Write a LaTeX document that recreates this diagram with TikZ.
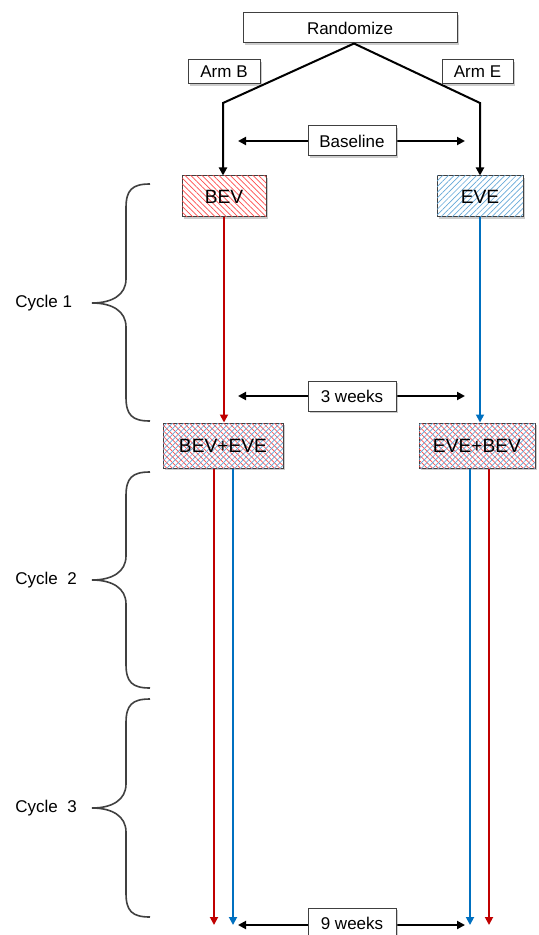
\documentclass[tikz,border=0pt]{standalone}
\usepackage{fontspec}
\setmainfont{Liberation Sans}
\usetikzlibrary{arrows.meta,positioning,patterns.meta,shadows}
\definecolor{armred}{RGB}{192,0,0}
\definecolor{armblue}{RGB}{0,112,192}

\begin{document}
\begin{tikzpicture}[x=0.5pt, y=-0.5pt,
    lbl/.style={draw=black!75, fill=white, inner sep=0pt, line width=0.5pt, font=\fontsize{8.5}{10}\selectfont, drop shadow={shadow xshift=0.8pt, shadow yshift=-0.8pt, opacity=0.4}},
    drug/.style={lbl, font=\fontsize{9.6}{11}\selectfont},
    redhatch/.style={postaction={pattern={Lines[angle=-45,distance=2pt,line width=0.35pt]}, pattern color=red!70}},
    bluehatch/.style={postaction={pattern={Lines[angle=45,distance=2pt,line width=0.35pt]}, pattern color=armblue!60}},
    cyc/.style={inner sep=0pt, font=\fontsize{8.5}{10}\selectfont},
    brace/.style={draw=black!75, line width=0.8pt},
    arr/.style={-{Triangle[length=4pt,width=4pt]}, line width=1pt},
    redarr/.style={arr, draw=armred, fill=armred, line width=0.9pt},
    bluearr/.style={arr, draw=armblue, fill=armblue, line width=0.9pt}
]
\useasboundingbox (0,0) rectangle (539,935);

% top part
\node[lbl, minimum width=107pt, minimum height=15pt] (rand) at (350,28) {Randomize};
\node[lbl, minimum width=36pt, minimum height=12pt] (armb) at (224,72) {Arm B};
\node[lbl, minimum width=35.5pt, minimum height=12pt] (arme) at (477.5,72) {Arm E};

\coordinate (kb) at (223,103);
\coordinate (ke) at (480,103);

\node[drug, redhatch, minimum width=42pt, minimum height=20.5pt] (bev) at (224,196.5) {BEV};
\node[drug, bluehatch, minimum width=43pt, minimum height=20.5pt] (eve) at (480,196.5) {EVE};

\draw[arr] ([xshift=2pt]rand.south) -- (kb) -- (kb |- bev.north);
\draw[arr] ([xshift=2pt]rand.south) -- (ke) -- (ke |- eve.north);

\coordinate (bl) at (238,141);
\coordinate (br) at (465,141);
\draw[arr] (352,141) -- (bl);
\draw[arr] (352,141) -- (br);
\node[lbl, minimum width=44pt, minimum height=15pt] (base) at (352,141) {Baseline};

% cycle 1
\node[drug, redhatch, bluehatch, minimum width=60pt, minimum height=22.5pt] (be) at (223,445.5) {BEV+EVE};
\node[drug, redhatch, bluehatch, minimum width=58pt, minimum height=22.5pt] (eb) at (477,445.5) {EVE+BEV};

\draw[redarr] (bev.south) -- (bev.south |- be.north);
\draw[bluearr] (eve.south) -- (eve.south |- eb.north);

\coordinate (wl) at (238,396);
\coordinate (wr) at (465,396);
\draw[arr] (352,396) -- (wl);
\draw[arr] (352,396) -- (wr);
\node[lbl, minimum width=44pt, minimum height=15pt] (wk3) at (352,396) {3 weeks};

% cycles 2 and 3
\coordinate (endbr) at (214,925);
\coordinate (endbb) at (233,925);
\coordinate (endeb) at (470,925);
\coordinate (ender) at (489,925);
\draw[redarr] (be.south -| endbr) -- (endbr);
\draw[bluearr] (be.south -| endbb) -- (endbb);
\draw[bluearr] (eb.south -| endeb) -- (endeb);
\draw[redarr] (eb.south -| ender) -- (ender);

\coordinate (nl) at (238,925);
\coordinate (nr) at (465,925);
\draw[arr] (352,925) -- (nl);
\draw[arr] (352,925) -- (nr);
\node[lbl, minimum width=44pt, minimum height=15pt] (wk9) at (352,923) {9 weeks};

% braces
\foreach \t/\m/\b/\name/\txt in {184/303/421/c1/{Cycle 1}, 472/580/688/c2/{Cycle\ \ 2}, 699/808/917/c3/{Cycle\ \ 3}}{
  \node[cyc, anchor=west] (\name) at (15,\m) {\txt};
  \draw[brace] (150,\t) .. controls (132,\t) and (126,\t+6) .. (126,\t+24) -- (126,\m-24)
    .. controls (126,\m-8) and (112,\m) .. (92,\m)
    .. controls (112,\m) and (126,\m+8) .. (126,\m+24) -- (126,\b-24)
    .. controls (126,\b-6) and (132,\b) .. (150,\b);
}
\end{tikzpicture}
\end{document}
